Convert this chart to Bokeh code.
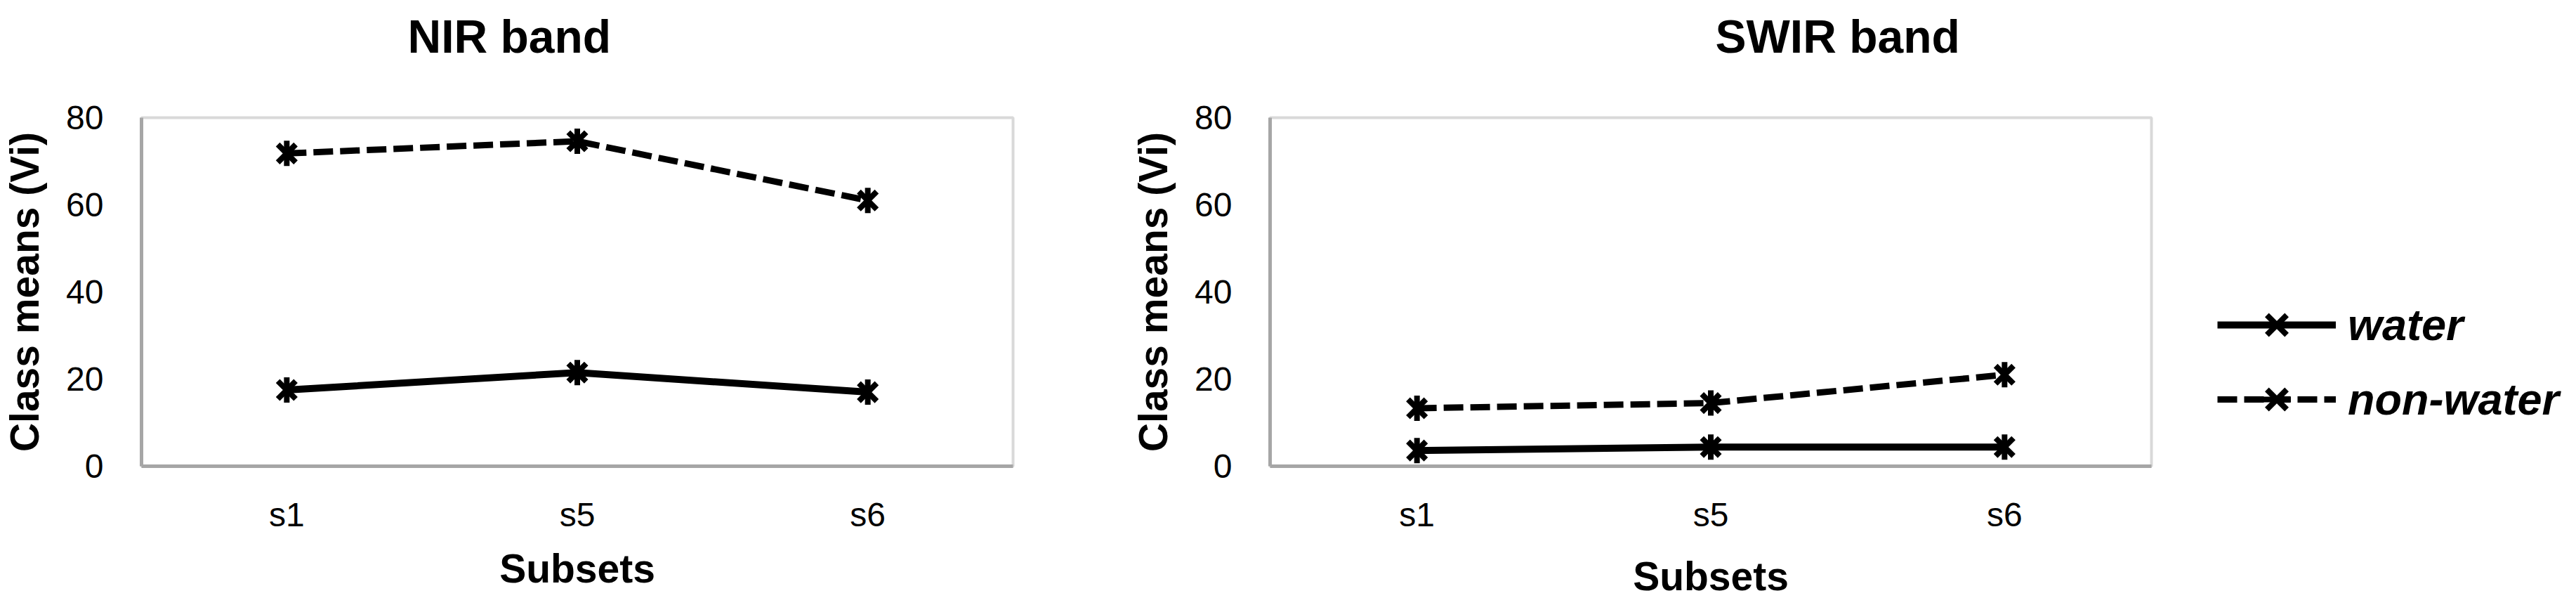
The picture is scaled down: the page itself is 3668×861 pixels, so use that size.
import numpy as np
from bokeh.plotting import figure
from bokeh.layouts import row
from bokeh.models import FixedTicker, Legend, LegendItem, Range1d, FactorRange, Title
from bokeh.embed import file_html
from bokeh.resources import INLINE

# ---- data ----
subsets = ["s1", "s5", "s6"]
nir_water = [17.5, 21.5, 17.0]
nir_nonwater = [71.8, 74.6, 61.0]
swir_water = [3.6, 4.4, 4.4]
swir_nonwater = [13.3, 14.5, 21.0]
y_ticks = [0, 20, 40, 60, 80]
titles = ["NIR band", "SWIR band"]
series_labels = ["water", "non-water"]

FONT = "Liberation Sans"


def add_series(p, xs, water, nonwater):
    l1 = p.line(xs, water, line_color="black", line_width=10)
    m1 = p.scatter(xs, water, marker="x", size=36, line_color="black", line_width=8)
    d1 = p.scatter(xs, water, marker="dash", angle=np.pi / 2, size=36, line_color="black", line_width=8)
    l2 = p.line(xs, nonwater, line_color="black", line_width=9, line_dash="28 10")
    m2 = p.scatter(xs, nonwater, marker="x", size=36, line_color="black", line_width=8)
    d2 = p.scatter(xs, nonwater, marker="dash", angle=np.pi / 2, size=36, line_color="black", line_width=8)
    return [l1, m1, d1], [l2, m2, d2]


def make_fig(title, title_offset, width, mbl, mbr, mbt, mbb, water, nonwater, xl_standoff):
    p = figure(x_range=FactorRange(factors=subsets), y_range=Range1d(0, 80),
               width=width, height=861, output_backend="svg", toolbar_location=None,
               min_border_left=mbl, min_border_right=mbr, min_border_top=mbt,
               min_border_bottom=mbb)
    p.title = None
    # blank spacer panel between the frame and the title
    spacer = Title(text=" ", text_color="white", text_font=FONT, text_font_size="20px",
                   standoff=43)
    p.add_layout(spacer, "above")
    t = Title(text=title, align="left", offset=title_offset, text_font=FONT,
              text_font_size="66px", text_font_style="bold", text_color="black",
              standoff=24)
    p.add_layout(t, "above")
    p.background_fill_color = "white"
    p.border_fill_color = "white"
    p.outline_line_color = "#D9D9D9"
    p.outline_line_width = 4
    p.xgrid.visible = False
    p.ygrid.visible = False

    p.yaxis.ticker = FixedTicker(ticks=y_ticks)
    for ax in (p.xaxis[0], p.yaxis[0]):
        ax.axis_line_color = "#A6A6A6"
        ax.axis_line_width = 5
        ax.major_tick_out = 0
        ax.major_tick_in = 0
        ax.minor_tick_out = 0
        ax.minor_tick_in = 0
        ax.major_label_text_font = FONT
        ax.major_label_text_font_size = "48px"
        ax.major_label_text_color = "black"
        ax.axis_label_text_font = FONT
        ax.axis_label_text_font_size = "57px"
        ax.axis_label_text_font_style = "bold"
        ax.axis_label_text_color = "black"
    p.yaxis.axis_label = "Class means (Vi)"
    p.yaxis.major_label_standoff = 54
    p.yaxis.axis_label_standoff = 24
    p.xaxis.axis_label = "Subsets"
    p.xaxis.major_label_standoff = 42
    p.xaxis.axis_label_standoff = xl_standoff

    add_series(p, subsets, water, nonwater)
    return p


p1 = make_fig(titles[0], 379, 1560, 201, 118, 167, 198, nir_water, nir_nonwater, 15)
p2 = make_fig(titles[1], 634, 1508, 248, 5, 166, 191, swir_water, swir_nonwater, 26)

# legend figure (glyphs drawn outside its visible range, only the legend shows)
p3 = figure(x_range=FactorRange(factors=subsets), y_range=Range1d(200, 201),
            width=592, height=861, output_backend="svg", toolbar_location=None,
            min_border_left=0, min_border_right=0, min_border_top=0, min_border_bottom=0,
            x_axis_type=None, y_axis_type=None)
p3.title = None
p3.outline_line_color = None
p3.background_fill_color = "white"
p3.border_fill_color = "white"
p3.xgrid.visible = False
p3.ygrid.visible = False
rw, rn = add_series(p3, subsets, swir_water, swir_nonwater)

legend = Legend(items=[LegendItem(label=series_labels[0], renderers=rw),
                       LegendItem(label=series_labels[1], renderers=rn)],
                location=(89, 45), orientation="vertical",
                glyph_width=169, glyph_height=100, spacing=6, label_standoff=17,
                padding=0, margin=0, border_line_color=None, background_fill_alpha=0,
                label_text_font=FONT, label_text_font_size="63px",
                label_text_font_style="bold italic", label_text_color="black")
p3.add_layout(legend, "center")

layout = row(p1, p2, p3)
open("out.html", "w").write(file_html(layout, INLINE))
